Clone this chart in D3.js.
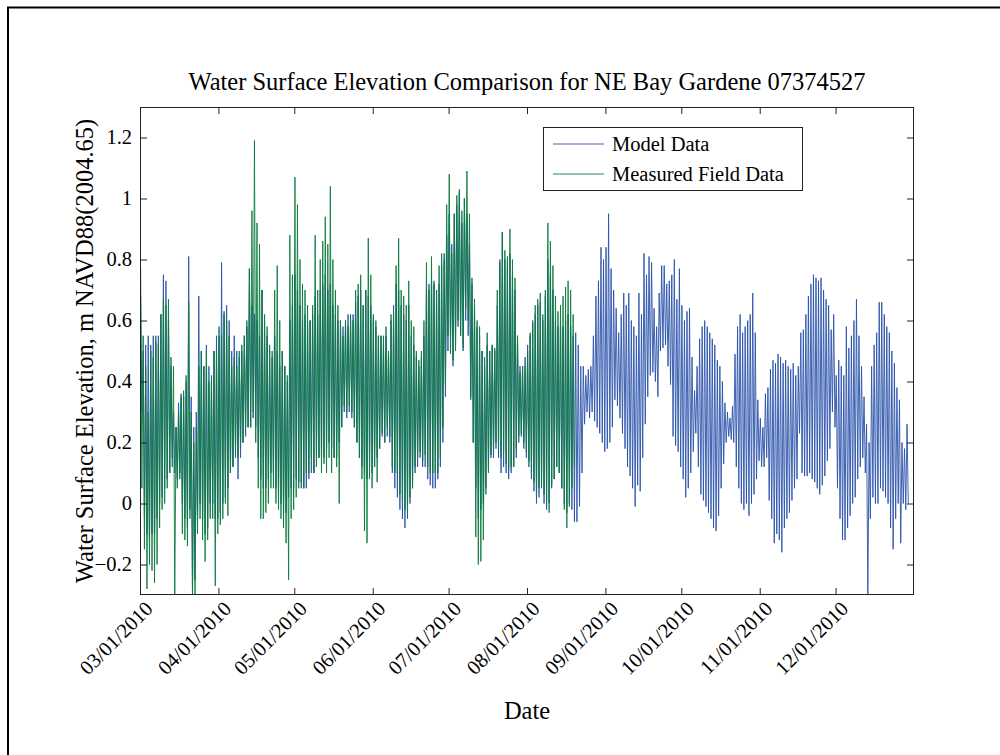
<!DOCTYPE html>
<html>
<head>
<meta charset="utf-8">
<script src="https://cdn.jsdelivr.net/npm/d3@7/dist/d3.min.js"></script>
<style>
  body { margin: 0; background: #fff; }
  text { font-family: "Liberation Serif", "Times New Roman", serif; fill: #000; }
</style>
</head>
<body>
<svg id="chart" width="1000" height="755"></svg>
<script>
// ---- data: daily high / low water surface elevation (m), starting 2010-03-01 ----
const seriesStart = "2010-03-01";

const modelHigh = [
  0.68,0.50,0.52,0.55,0.52,0.55,0.53,0.55,0.62,0.75,
  0.73,0.60,0.45,0.30,0.25,0.33,0.36,0.35,0.40,0.81,
  0.35,0.25,0.30,0.68,0.50,0.45,0.52,0.45,0.40,0.50,
  0.55,0.55,0.79,0.63,0.65,0.60,0.50,0.55,0.50,0.48,
  0.50,0.55,0.58,0.77,0.65,0.62,0.60,0.55,0.70,0.60,
  0.55,0.50,0.48,0.55,0.50,0.45,0.50,0.45,0.40,0.60,
  0.65,0.75,0.70,0.65,0.60,0.62,0.58,0.60,0.62,0.68,
  0.62,0.70,0.72,0.75,0.70,0.72,0.65,0.62,0.60,0.60,
  0.58,0.60,0.62,0.60,0.62,0.66,0.68,0.70,0.65,0.70,
  0.68,0.65,0.60,0.58,0.55,0.55,0.52,0.55,0.50,0.60,
  0.65,0.72,0.70,0.65,0.62,0.60,0.65,0.55,0.52,0.48,
  0.45,0.48,0.55,0.70,0.72,0.75,0.72,0.70,0.72,0.78,
  0.82,0.88,0.95,0.85,0.95,0.98,1.02,0.92,1.00,0.95,
  0.85,0.72,0.65,0.58,0.55,0.50,0.48,0.52,0.50,0.52,
  0.50,0.65,0.80,0.89,0.80,0.78,0.82,0.75,0.70,0.55,
  0.45,0.45,0.48,0.52,0.55,0.60,0.62,0.65,0.66,0.60,
  0.68,0.80,0.75,0.70,0.60,0.58,0.60,0.58,0.60,0.62,
  0.58,0.55,0.56,0.52,0.45,0.45,0.42,0.44,0.45,0.55,
  0.68,0.73,0.84,0.80,0.84,0.95,0.77,0.70,0.64,0.56,
  0.62,0.69,0.65,0.69,0.60,0.58,0.55,0.69,0.62,0.82,
  0.75,0.81,0.79,0.64,0.58,0.69,0.78,0.78,0.72,0.73,
  0.75,0.80,0.67,0.77,0.65,0.60,0.63,0.64,0.48,0.37,
  0.45,0.54,0.58,0.60,0.58,0.56,0.54,0.52,0.47,0.45,
  0.40,0.33,0.30,0.28,0.32,0.49,0.58,0.62,0.56,0.58,
  0.60,0.62,0.69,0.56,0.34,0.28,0.25,0.36,0.38,0.44,
  0.47,0.46,0.49,0.48,0.46,0.47,0.45,0.44,0.46,0.42,
  0.45,0.56,0.57,0.62,0.68,0.72,0.75,0.74,0.73,0.74,
  0.70,0.67,0.65,0.57,0.62,0.42,0.47,0.45,0.42,0.58,
  0.51,0.55,0.60,0.67,0.55,0.45,0.35,0.26,0.20,0.45,
  0.52,0.56,0.66,0.66,0.62,0.58,0.56,0.50,0.46,0.38,
  0.34,0.20,0.18,0.26
];

const modelLow = [
  0.30,-0.05,-0.10,-0.12,-0.10,-0.10,-0.05,0.00,0.02,0.05,
  0.08,0.10,0.15,0.10,0.08,0.10,0.00,-0.05,-0.08,-0.02,
  -0.30,-0.25,-0.05,0.00,-0.05,-0.10,-0.08,0.00,0.00,-0.05,
  -0.05,-0.03,0.00,0.02,0.05,0.10,0.12,0.15,0.08,0.15,
  0.20,0.22,0.25,0.25,0.28,0.25,0.15,0.08,0.05,0.05,
  0.08,0.10,0.10,0.05,0.03,0.00,-0.03,-0.03,0.02,0.05,
  0.05,0.08,0.07,0.05,0.05,0.05,0.08,0.10,0.10,0.15,
  0.15,0.15,0.15,0.18,0.20,0.18,0.15,0.15,0.20,0.25,
  0.30,0.28,0.30,0.28,0.25,0.20,0.15,0.12,0.10,0.08,
  0.12,0.10,0.12,0.15,0.18,0.22,0.20,0.22,0.20,0.10,
  0.05,0.02,-0.02,-0.05,-0.08,-0.05,0.00,0.05,0.10,0.12,
  0.15,0.12,0.12,0.08,0.06,0.05,0.05,0.08,0.12,0.20,
  0.35,0.50,0.55,0.45,0.52,0.58,0.55,0.50,0.60,0.55,
  0.35,0.20,0.05,-0.05,-0.02,0.00,0.05,0.12,0.15,0.15,
  0.18,0.15,0.10,0.12,0.10,0.08,0.10,0.12,0.15,0.20,
  0.22,0.18,0.15,0.12,0.08,0.04,0.00,0.02,0.05,0.00,
  -0.02,0.00,0.05,0.08,0.12,0.10,0.05,0.00,-0.03,0.00,
  -0.02,-0.06,-0.06,-0.01,0.10,0.26,0.30,0.28,0.30,0.27,
  0.25,0.23,0.20,0.17,0.18,0.20,0.25,0.34,0.32,0.28,
  0.23,0.18,0.12,0.09,0.05,-0.01,0.06,0.04,0.15,0.26,
  0.35,0.42,0.43,0.40,0.35,0.50,0.51,0.52,0.45,0.39,
  0.22,0.19,0.17,0.12,0.08,0.02,0.05,0.10,0.17,0.23,
  0.12,0.03,0.01,-0.01,-0.03,-0.05,-0.08,-0.09,-0.04,0.05,
  0.13,0.20,0.22,0.21,0.20,0.12,0.05,0.00,-0.02,0.00,
  -0.04,0.00,0.03,0.08,0.14,0.12,0.12,0.15,0.01,-0.05,
  -0.13,-0.10,-0.12,-0.16,-0.08,-0.05,-0.03,0.01,0.05,0.08,
  0.23,0.10,0.09,0.09,0.10,0.08,0.07,0.05,0.03,0.06,
  0.09,0.14,0.18,0.30,0.25,0.05,-0.05,-0.12,-0.12,-0.08,
  -0.04,0.00,0.02,0.08,0.12,0.15,0.10,-0.30,-0.05,0.02,
  0.00,0.00,0.05,0.04,0.02,0.00,-0.08,-0.15,-0.05,0.00,
  -0.13,0.00,-0.02,0.00
];

const fieldHigh = [
  0.77,0.55,0.45,0.30,0.50,0.48,0.55,0.52,0.62,0.67,
  0.65,0.67,0.48,0.45,0.25,0.30,0.35,0.37,0.42,0.66,
  0.30,0.20,0.25,0.45,0.50,0.45,0.50,0.40,0.42,0.50,
  0.50,0.58,0.55,0.62,0.60,0.55,0.45,0.48,0.45,0.50,
  0.52,0.55,0.60,0.77,0.96,1.19,0.92,0.85,0.70,0.62,
  0.58,0.52,0.50,0.70,0.78,0.60,0.50,0.45,0.42,0.88,
  0.75,1.07,0.98,0.80,0.72,0.70,0.65,0.60,0.65,0.88,
  0.70,0.80,0.86,0.94,0.85,1.04,0.80,0.70,0.65,0.60,
  0.55,0.60,0.58,0.62,0.60,0.70,0.72,0.75,0.65,0.70,
  0.87,0.75,0.62,0.60,0.55,0.55,0.55,0.58,0.50,0.62,
  0.62,0.78,0.87,0.70,0.68,0.65,0.73,0.60,0.58,0.50,
  0.47,0.50,0.60,0.79,0.70,0.81,0.73,0.70,0.78,0.82,
  0.80,0.98,1.08,0.82,0.95,1.01,1.03,0.96,1.00,1.09,
  0.95,0.74,0.67,0.60,0.58,0.50,0.45,0.56,0.50,0.52,
  0.51,0.70,0.79,0.89,0.83,0.81,0.90,0.80,0.74,0.55,
  0.43,0.45,0.45,0.50,0.56,0.59,0.65,0.67,0.69,0.62,
  0.70,0.92,0.86,0.78,0.68,0.63,0.65,0.68,0.71,0.73,
  0.70,0.62
];

const fieldLow = [
  0.05,-0.15,-0.28,-0.20,-0.22,-0.26,-0.20,-0.08,-0.02,0.00,
  0.05,0.10,0.12,-0.30,0.05,0.08,-0.10,-0.12,-0.14,-0.05,
  -0.30,-0.30,-0.10,-0.05,-0.12,-0.19,-0.12,-0.05,-0.05,-0.27,
  -0.10,-0.07,-0.05,0.00,-0.04,0.10,0.12,0.18,0.15,0.20,
  0.20,0.25,0.25,0.25,0.30,0.20,0.05,-0.05,-0.05,-0.03,
  0.00,0.05,0.05,0.00,-0.02,-0.05,-0.08,-0.13,-0.25,-0.05,
  -0.02,0.02,0.05,0.07,0.05,0.10,0.10,0.15,0.10,0.12,
  0.15,0.10,0.13,0.10,0.15,0.10,0.15,0.12,0.00,0.25,
  0.32,0.30,0.32,0.30,0.25,0.20,0.15,0.08,-0.09,-0.13,
  0.08,0.05,0.12,0.07,0.18,0.23,0.20,0.25,0.22,0.12,
  0.10,0.10,0.03,0.01,-0.02,-0.04,0.02,0.05,0.12,0.15,
  0.17,0.14,0.16,0.12,0.10,0.10,0.10,0.10,0.15,0.25,
  0.39,0.55,0.49,0.47,0.50,0.60,0.55,0.51,0.64,0.60,
  0.34,0.20,-0.11,-0.20,-0.19,-0.12,0.03,0.10,0.16,0.18,
  0.20,0.19,0.15,0.17,0.13,0.11,0.12,0.12,0.18,0.22,
  0.23,0.20,0.17,0.14,0.10,0.07,0.02,0.05,0.06,0.03,
  0.01,-0.03,0.06,0.08,0.12,0.10,0.05,-0.02,-0.08,-0.01,
  0.05,0.12
];

const xTickDates = ["2010-03-01","2010-04-01","2010-05-01","2010-06-01","2010-07-01",
                    "2010-08-01","2010-09-01","2010-10-01","2010-11-01","2010-12-01"];
const yTickValues = [-0.2, 0, 0.2, 0.4, 0.6, 0.8, 1, 1.2];
const seriesNames = ["Model Data", "Measured Field Data"];
const seriesColors = ["#2a52aa", "#0c7c40"];

// ---- layout ----
const svg = d3.select("#chart");
const plot = { left: 140, right: 914, top: 107, bottom: 595 };

svg.append("rect").attr("width", 1000).attr("height", 755).attr("fill", "#fff");

// outer figure frame (top and left edges)
svg.append("path")
  .attr("d", "M8,755 L8,7.5 L1000,7.5")
  .attr("fill", "none").attr("stroke", "#000").attr("stroke-width", 2);

const parseDay = d3.utcParse("%Y-%m-%d");
const x = d3.scaleUtc()
  .domain([parseDay("2010-03-01"), parseDay("2011-01-01")])
  .range([plot.left, plot.right]);
const y = d3.scaleLinear().domain([-0.3, 1.3]).range([plot.bottom, plot.top]);

// daily high then low -> a zig-zag tide trace
const t0 = parseDay(seriesStart);
function toPoints(highs, lows) {
  const pts = [];
  highs.forEach((h, i) => {
    pts.push({ t: d3.utcHour.offset(t0, Math.round(i * 24 + 6)), v: h });
    pts.push({ t: d3.utcHour.offset(t0, Math.round(i * 24 + 18)), v: lows[i] });
  });
  return pts;
}
const modelPts = toPoints(modelHigh, modelLow);
const fieldPts = toPoints(fieldHigh, fieldLow);

svg.append("clipPath").attr("id", "plotClip")
  .append("rect")
  .attr("x", plot.left).attr("y", plot.top)
  .attr("width", plot.right - plot.left).attr("height", plot.bottom - plot.top);

const line = d3.line().x(d => x(d.t)).y(d => y(d.v));
const traces = svg.append("g").attr("clip-path", "url(#plotClip)");
traces.append("path").datum(modelPts)
  .attr("d", line).attr("fill", "none")
  .attr("stroke", seriesColors[0]).attr("stroke-width", 0.9)
  .attr("stroke-linejoin", "round");
traces.append("path").datum(fieldPts)
  .attr("d", line).attr("fill", "none")
  .attr("stroke", seriesColors[1]).attr("stroke-width", 0.9)
  .attr("stroke-linejoin", "round");

// ---- axes (ticks inward on all four sides) ----
const tickLen = 7;
const xTicks = xTickDates.map(parseDay);
const fmt = d3.utcFormat("%m/%d/%Y");

const axisBottom = svg.append("g").attr("transform", `translate(0,${plot.bottom})`)
  .call(d3.axisBottom(x).tickValues(xTicks).tickSize(-tickLen).tickFormat(""));
const axisTop = svg.append("g").attr("transform", `translate(0,${plot.top})`)
  .call(d3.axisTop(x).tickValues(xTicks).tickSize(-tickLen).tickFormat(""));
const axisLeft = svg.append("g").attr("transform", `translate(${plot.left},0)`)
  .call(d3.axisLeft(y).tickValues(yTickValues).tickSize(-tickLen).tickFormat(""));
const axisRight = svg.append("g").attr("transform", `translate(${plot.right},0)`)
  .call(d3.axisRight(y).tickValues(yTickValues).tickSize(-tickLen).tickFormat(""));
[axisBottom, axisTop, axisLeft, axisRight].forEach(g => {
  g.select(".domain").remove();
  g.selectAll(".tick line").attr("stroke", "#222");
});

svg.append("rect")
  .attr("x", plot.left + 0.5).attr("y", plot.top + 0.5)
  .attr("width", plot.right - plot.left - 1).attr("height", plot.bottom - plot.top - 1)
  .attr("fill", "none").attr("stroke", "#222").attr("stroke-width", 1);

// rotated date labels
svg.append("g").selectAll("text").data(xTicks).join("text")
  .attr("transform", d => `translate(${x(d) + 14},${plot.bottom + 15}) rotate(-45)`)
  .attr("text-anchor", "end")
  .style("font-size", "20.5px")
  .text(d => fmt(d));

// value labels
svg.append("g").selectAll("text").data(yTickValues).join("text")
  .attr("x", plot.left - 8).attr("y", d => y(d))
  .attr("dy", "0.34em")
  .attr("text-anchor", "end")
  .style("font-size", "20.5px")
  .text(d => d3.format("")(d));

// ---- titles ----
svg.append("text")
  .attr("x", (plot.left + plot.right) / 2).attr("y", 90)
  .attr("text-anchor", "middle").style("font-size", "24.5px")
  .text("Water Surface Elevation Comparison for NE Bay Gardene 07374527");

svg.append("text")
  .attr("transform", `translate(93,${(plot.top + plot.bottom) / 2}) rotate(-90)`)
  .attr("text-anchor", "middle").style("font-size", "24.5px")
  .text("Water Surface Elevation, m NAVD88(2004.65)");

svg.append("text")
  .attr("x", (plot.left + plot.right) / 2).attr("y", 719)
  .attr("text-anchor", "middle").style("font-size", "24.5px")
  .text("Date");

// ---- legend ----
const legend = svg.append("g").attr("transform", "translate(543,127)");
legend.append("rect")
  .attr("x", 0.5).attr("y", 0.5).attr("width", 259).attr("height", 63)
  .attr("fill", "#fff").attr("stroke", "#222").attr("stroke-width", 1);
seriesNames.forEach((name, i) => {
  const ly = 17 + i * 30;
  legend.append("line")
    .attr("x1", 10).attr("x2", 61).attr("y1", ly).attr("y2", ly)
    .attr("stroke", seriesColors[i]).attr("stroke-width", 0.9);
  legend.append("text")
    .attr("x", 69).attr("y", ly).attr("dy", "0.34em")
    .style("font-size", "20.5px")
    .text(name);
});
</script>
</body>
</html>
